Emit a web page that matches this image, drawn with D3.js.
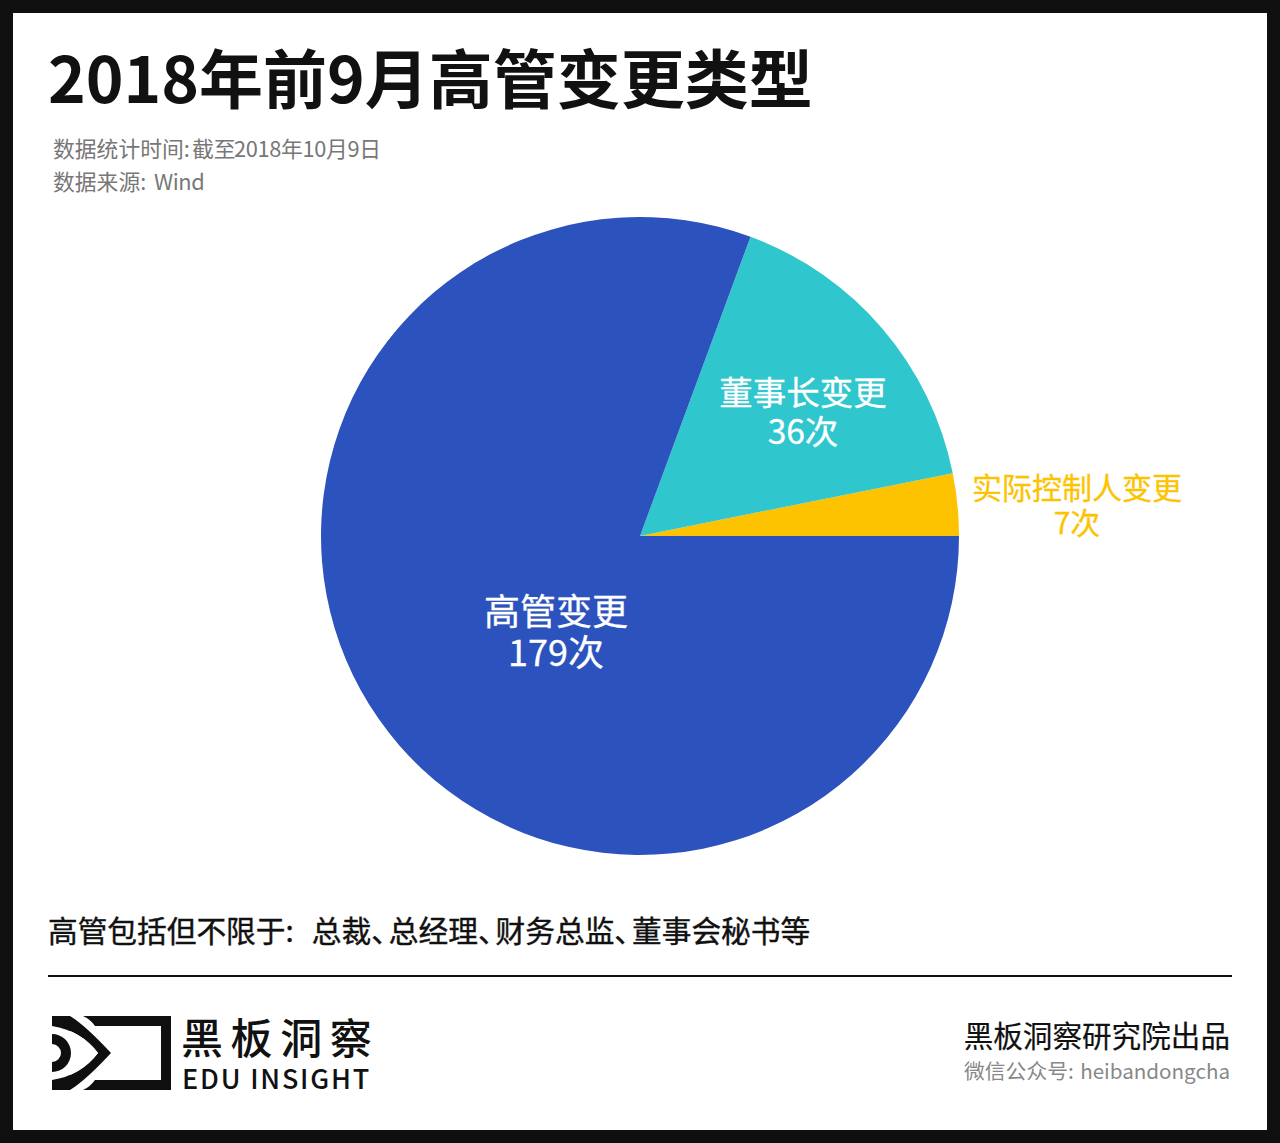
<!DOCTYPE html>
<html>
<head>
<meta charset="utf-8">
<script src="https://cdn.jsdelivr.net/npm/d3@7/dist/d3.min.js"></script>
<style>
  html, body { margin: 0; padding: 0; background: #fff; }
  svg { display: block; }
  text { font-family: "Noto Sans CJK SC", "Noto Sans", sans-serif; }
</style>
</head>
<body>
<svg id="chart" width="1280" height="1143"></svg>
<script>
const categories = ["实际控制人变更", "董事长变更", "高管变更"];
const counts = [7, 36, 179];
const countLabels = ["7次", "36次", "179次"];
const sliceColors = ["#fdc300", "#2fc6ce", "#2c52bd"];
const labelColors = ["#fdc300", "#ffffff", "#ffffff"];

const titleText = "2018年前9月高管变更类型";
const subtitleParts = ["数据统计时间:", "截至", "2018年10月9日", "数据来源:", "Wind"];
const noteParts = ["高管包括但不限于:", "总裁、", "总经理、", "财务总监、", "董事会秘书等"];

const svg = d3.select("#chart");
const width = +svg.attr("width");
const height = +svg.attr("height");

// frame
svg.append("rect").attr("width", width).attr("height", height).attr("fill", "#0f0f0f");
svg.append("rect").attr("x", 13).attr("y", 13).attr("width", 1254).attr("height", 1117).attr("fill", "#fff");

// header
svg.append("text").attr("x", 48).attr("y", 103)
  .attr("font-size", 64).attr("font-weight", 700).attr("fill", "#111")
  .text(titleText);

// each part of the two lines sits at its own x, the latin is set tighter than the cjk
const subX = [53, 192, 234, 53, 154];
const subY = [157, 157, 157, 190, 190];
const subSpacing = [0, 0, -0.35, 0, -0.4];
svg.selectAll(".sub").data(subtitleParts).enter().append("text")
  .attr("class", "sub")
  .attr("x", (d, i) => subX[i])
  .attr("y", (d, i) => subY[i])
  .attr("letter-spacing", (d, i) => subSpacing[i])
  .attr("font-size", 21.8).attr("fill", "#777")
  .text(d => d);

// pie, runs counter clockwise from 3 o'clock
const cx = 640, cy = 536, radius = 319;
const pie = d3.pie().sort(null).startAngle(Math.PI / 2).endAngle(Math.PI / 2 - 2 * Math.PI);
const arc = d3.arc().innerRadius(0).outerRadius(radius);

const g = svg.append("g").attr("transform", "translate(" + cx + "," + cy + ")");
g.selectAll("path").data(pie(counts)).enter().append("path")
  .attr("d", arc)
  .attr("fill", (d, i) => sliceColors[i]);

// label centre offsets from the pie centre, first and second line
const labelAnchors = [[437, -48, 35], [163, -143, 39], [-84, 76, 41]];
const labelSizes = [30, 33.5, 36];

categories.forEach((name, i) => {
  const a = labelAnchors[i];
  const label = g.append("text")
    .attr("text-anchor", "middle")
    .attr("font-size", labelSizes[i])
    .attr("fill", labelColors[i])
    .attr("stroke", labelColors[i]).attr("stroke-width", 0.3);
  label.append("tspan").attr("x", a[0]).attr("y", a[1] + labelSizes[i] * 0.36).text(name);
  label.append("tspan").attr("x", a[0]).attr("y", a[1] + a[2] + labelSizes[i] * 0.36).text(countLabels[i]);
});

// note, the 、 marks are set half width in the original
const noteDx = [0, 18, -12, -12, -12];
const note = svg.append("text").attr("x", 48).attr("y", 942)
  .attr("font-size", 29.7).attr("fill", "#111")
  .attr("stroke", "#111").attr("stroke-width", 0.4);
noteParts.forEach((p, i) => note.append("tspan").attr("dx", noteDx[i]).text(p));

svg.append("line").attr("x1", 48).attr("x2", 1232).attr("y1", 976).attr("y2", 976)
  .attr("stroke", "#111").attr("stroke-width", 2);

// logo
const logo = svg.append("g").attr("transform", "translate(52,1016)");
logo.append("rect").attr("width", 119).attr("height", 74).attr("fill", "#0f0f0f");
logo.append("rect").attr("x", 43).attr("y", 10).attr("width", 66).attr("height", 54).attr("fill", "#fff");
logo.append("path").attr("fill", "#fff").attr("d", "M18,0 L31,0 Q38,3 43,10 L43,64 Q38,71 31,74 L18,74 Z");
logo.append("path").attr("fill", "#0f0f0f").attr("d", "M0,0 L18,0 Q33.5,9.5 59,37 Q33.5,64.5 18,74 L0,74 L0,64 Q29,59.5 46,37 Q29,14.5 0,10 Z");
logo.append("path").attr("fill", "#fff").attr("d", "M0,10 Q29,14.5 46,37 Q29,59.5 0,64 Z");
logo.append("path").attr("fill", "#0f0f0f").attr("d", "M0,18 A19,19 0 0 1 0,56 L0,46 A9,9 0 0 0 0,28 Z");

svg.append("text").attr("x", 181).attr("y", 1054)
  .attr("font-size", 42).attr("font-weight", 500).attr("letter-spacing", 7.6).attr("fill", "#111")
  .text("黑板洞察");
svg.append("text").attr("x", 182).attr("y", 1089)
  .attr("font-size", 27).attr("font-weight", 500).attr("letter-spacing", 1.8).attr("fill", "#111")
  .text("EDU INSIGHT");

// credits
svg.append("text").attr("x", 1230).attr("y", 1047).attr("text-anchor", "end")
  .attr("font-size", 29.6).attr("fill", "#111")
  .attr("stroke", "#111").attr("stroke-width", 0.2)
  .text("黑板洞察研究院出品");
svg.append("text").attr("x", 964).attr("y", 1079)
  .attr("font-size", 20.8).attr("fill", "#888")
  .text("微信公众号:");
svg.append("text").attr("x", 1230).attr("y", 1079).attr("text-anchor", "end")
  .attr("font-size", 20.6).attr("fill", "#888")
  .text("heibandongcha");
</script>
</body>
</html>
